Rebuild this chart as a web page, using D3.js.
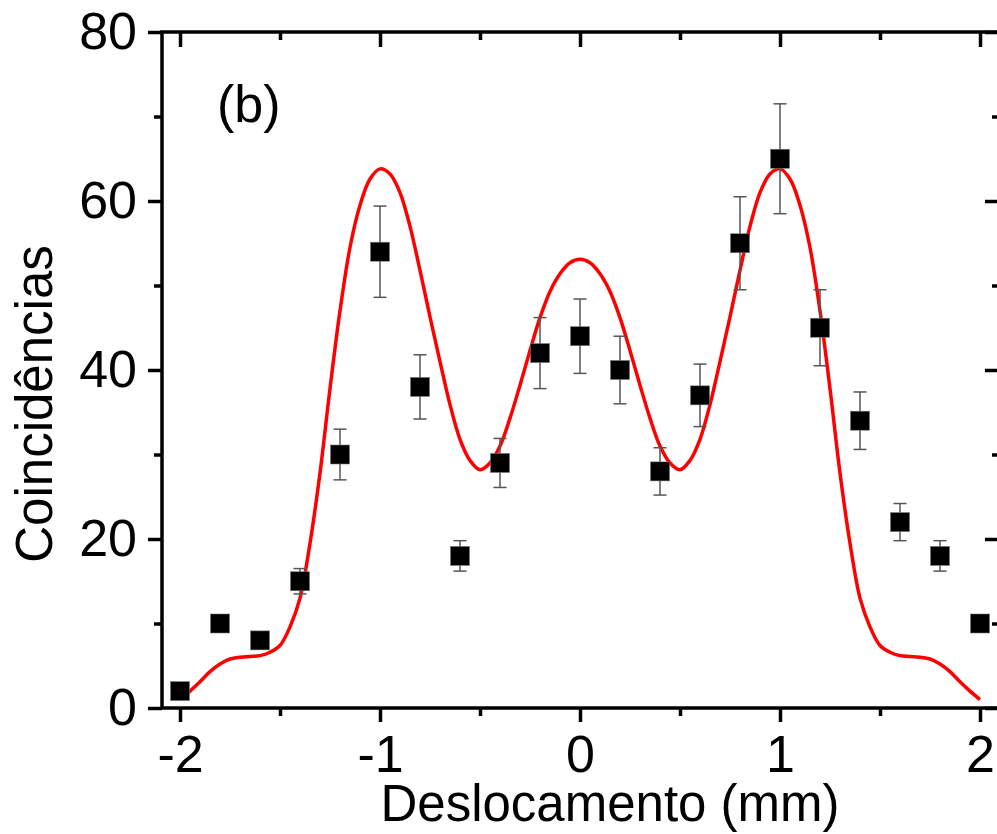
<!DOCTYPE html>
<html>
<head>
<meta charset="utf-8">
<script src="https://cdn.jsdelivr.net/npm/d3@7"></script>
<style>
  body { margin: 0; background: #fff; }
  svg { display: block; font-family: "Liberation Sans", Arial, sans-serif; }
</style>
</head>
<body>
<div class="container"></div>
<script>
// Measured coincidences
const posX = [-2, -1.8, -1.6, -1.4, -1.2, -1, -0.8, -0.6, -0.4, -0.2, 0, 0.2, 0.4, 0.6, 0.8, 1, 1.2, 1.4, 1.6, 1.8, 2]
const counts = [2, 10, 8, 15, 30, 54, 38, 18, 29, 42, 44, 40, 28, 37, 55, 65, 45, 34, 22, 18, 10]
const errors = [0.2, 1.0, 0.8, 1.5, 3.0, 5.4, 3.8, 1.8, 2.9, 4.2, 4.4, 4.0, 2.8, 3.7, 5.5, 6.5, 4.5, 3.4, 2.2, 1.8, 1.0]

// Fitted curve
const fitX = [-2, -1.95, -1.9, -1.85, -1.8, -1.75, -1.7, -1.65, -1.6, -1.55, -1.5, -1.45, -1.4, -1.35, -1.3, -1.25, -1.2, -1.15, -1.1, -1.05,
  -1, -0.95, -0.9, -0.85, -0.8, -0.75, -0.7, -0.65, -0.6, -0.55, -0.5, -0.45, -0.4, -0.35, -0.3, -0.25, -0.2, -0.15, -0.1, -0.05,
  0, 0.05, 0.1, 0.15, 0.2, 0.25, 0.3, 0.35, 0.4, 0.45, 0.5, 0.55, 0.6, 0.65, 0.7, 0.75, 0.8, 0.85, 0.9, 0.95,
  1, 1.05, 1.1, 1.15, 1.2, 1.25, 1.3, 1.35, 1.4, 1.45, 1.5, 1.55, 1.6, 1.65, 1.7, 1.75, 1.8, 1.85, 1.9, 1.95, 2]
const fitY = [1.0, 2.0, 3.1, 4.3, 5.2, 5.8, 6.0, 6.1, 6.2, 6.6, 7.4, 9.6, 13.0, 19.5, 27.8, 37.8, 47.0, 54.5, 59.5, 62.6,
  63.8, 63.2, 61.0, 57.0, 51.8, 46.3, 41.0, 35.9, 31.8, 29.3, 28.2, 29.0, 31.0, 34.3, 38.2, 42.3, 46.2, 49.3, 51.4, 52.7,
  53.1, 52.7, 51.4, 49.3, 46.2, 42.3, 38.2, 34.3, 31.0, 29.0, 28.2, 29.3, 31.8, 35.9, 41.0, 46.3, 51.8, 57.0, 61.0, 63.2,
  63.8, 62.6, 59.5, 54.5, 47.0, 37.8, 27.8, 19.5, 13.0, 9.6, 7.4, 6.6, 6.2, 6.1, 6.0, 5.8, 5.2, 4.3, 3.1, 2.0, 1.0]

const xMajor = [-2, -1, 0, 1, 2]
const xMinor = [-1.5, -0.5, 0.5, 1.5]
const yMajor = [0, 20, 40, 60, 80]
const yMinor = [10, 30, 50, 70]

let outerWidth = 997
let outerHeight = 834
let margin = {left: 162, right: 1000, top: 32, bottom: 708}

const svg = d3.select(".container")
    .append("svg")
    .attr("width", outerWidth)
    .attr("height", outerHeight)

const x = d3.scaleLinear().domain([-2.09, 2.1]).range([margin.left, margin.right])
const y = d3.scaleLinear().domain([0, 80]).range([margin.bottom, margin.top])

// plain hyphen for negatives, like the original figure
const fmt = d => String(d)

function styleAxis(g) {
    g.select(".domain").remove()
    g.selectAll("line").attr("stroke", "black").attr("stroke-width", 3.5)
    g.selectAll("text").attr("font-size", 52).attr("fill", "black")
        .attr("font-family", '"Liberation Sans", Arial, sans-serif')
}

// Bottom axis
svg.append("g").attr("transform", `translate(0,${margin.bottom})`)
    .call(d3.axisBottom(x).tickValues(xMajor).tickSize(14).tickPadding(13).tickFormat(fmt))
    .call(styleAxis)
svg.append("g").attr("transform", `translate(0,${margin.bottom})`)
    .call(d3.axisBottom(x).tickValues(xMinor).tickSize(8).tickFormat(""))
    .call(styleAxis)

// Top axis (inward ticks)
svg.append("g").attr("transform", `translate(0,${margin.top})`)
    .call(d3.axisTop(x).tickValues(xMajor).tickSize(-15).tickFormat(""))
    .call(styleAxis)
svg.append("g").attr("transform", `translate(0,${margin.top})`)
    .call(d3.axisTop(x).tickValues(xMinor).tickSize(-8).tickFormat(""))
    .call(styleAxis)

// Left axis
svg.append("g").attr("transform", `translate(${margin.left},0)`)
    .call(d3.axisLeft(y).tickValues(yMajor).tickSize(14).tickPadding(11).tickFormat(fmt))
    .call(styleAxis)
svg.append("g").attr("transform", `translate(${margin.left},0)`)
    .call(d3.axisLeft(y).tickValues(yMinor).tickSize(8).tickFormat(""))
    .call(styleAxis)

// Right axis (inward ticks)
svg.append("g").attr("transform", `translate(${margin.right},0)`)
    .call(d3.axisRight(y).tickValues(yMajor).tickSize(-15).tickFormat(""))
    .call(styleAxis)
svg.append("g").attr("transform", `translate(${margin.right},0)`)
    .call(d3.axisRight(y).tickValues(yMinor).tickSize(-8).tickFormat(""))
    .call(styleAxis)

// Frame
svg.append("rect")
    .attr("x", margin.left).attr("y", margin.top)
    .attr("width", margin.right - margin.left).attr("height", margin.bottom - margin.top)
    .attr("fill", "none")
    .attr("stroke", "black")
    .attr("stroke-width", 3.5)

// Fitted curve
const fit = fitX.map((d, i) => [d, fitY[i]])
svg.append("path")
    .datum(fit)
    .attr("d", d3.line().x(d => x(d[0])).y(d => y(d[1])).curve(d3.curveCatmullRom))
    .attr("fill", "none")
    .attr("stroke", "#ff0000")
    .attr("stroke-width", 3.5)

// Error bars
const pts = posX.map((d, i) => ({x: d, y: counts[i], e: errors[i]}))
const bars = svg.append("g").attr("stroke", "#555").attr("stroke-width", 1.5)
bars.selectAll(".v").data(pts).join("line").attr("class", "v")
    .attr("x1", d => x(d.x)).attr("x2", d => x(d.x))
    .attr("y1", d => y(d.y - d.e)).attr("y2", d => y(d.y + d.e))
bars.selectAll(".t").data(pts).join("line").attr("class", "t")
    .attr("x1", d => x(d.x) - 6.5).attr("x2", d => x(d.x) + 6.5)
    .attr("y1", d => y(d.y + d.e)).attr("y2", d => y(d.y + d.e))
bars.selectAll(".b").data(pts).join("line").attr("class", "b")
    .attr("x1", d => x(d.x) - 6.5).attr("x2", d => x(d.x) + 6.5)
    .attr("y1", d => y(d.y - d.e)).attr("y2", d => y(d.y - d.e))

// Points
svg.selectAll(".pt").data(pts).join("rect").attr("class", "pt")
    .attr("x", d => x(d.x) - 9.5).attr("y", d => y(d.y) - 9.5)
    .attr("width", 19).attr("height", 19)
    .attr("fill", "black")
    .attr("stroke", "#777").attr("stroke-width", 0.6)

// Labels
svg.append("text")
    .attr("x", 610).attr("y", 821)
    .attr("text-anchor", "middle")
    .attr("font-size", 51)
    .text("Deslocamento (mm)")

svg.append("text")
    .attr("transform", "translate(52,404) rotate(-90)")
    .attr("text-anchor", "middle")
    .attr("font-size", 51)
    .text("Coincidências")

svg.append("text")
    .attr("x", 217).attr("y", 122)
    .attr("font-size", 52)
    .text("(b)")
</script>
</body>
</html>
